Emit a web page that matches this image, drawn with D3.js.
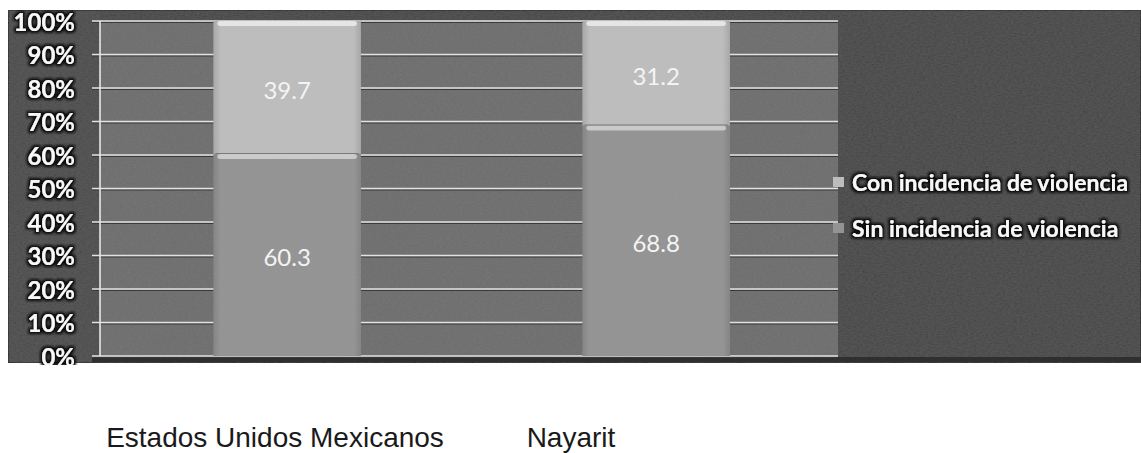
<!DOCTYPE html>
<html>
<head>
<meta charset="utf-8">
<script src="https://cdn.jsdelivr.net/npm/d3@7"></script>
<style>
  html, body { margin: 0; padding: 0; background: #ffffff; }
  svg { display: block; }
</style>
</head>
<body>
<svg id="chart" width="1141" height="453"></svg>
<script>
// ---- data ----
const categories = ["Estados Unidos Mexicanos", "Nayarit"];
const seriesNames = ["Sin incidencia de violencia", "Con incidencia de violencia"];
const sinValues = [60.3, 68.8];
const conValues = [39.7, 31.2];
const yTicks = [0, 10, 20, 30, 40, 50, 60, 70, 80, 90, 100];
const legendOrder = ["Con incidencia de violencia", "Sin incidencia de violencia"];

const svg = d3.select("#chart");

const frame = { x0: 8, y0: 10, x1: 1141, y1: 363 };
const plot = { left: 100, right: 838, top: 21, bottom: 356 };

const colors = {
  "Sin incidencia de violencia": "#939393",
  "Con incidencia de violencia": "#bdbdbd"
};

const defs = svg.append("defs");
// grain filter
const f = defs.append("filter").attr("id", "grain").attr("x", 0).attr("y", 0).attr("width", 1).attr("height", 1);
f.append("feTurbulence").attr("type", "fractalNoise").attr("baseFrequency", "0.35 0.9").attr("numOctaves", 2).attr("seed", 4).attr("result", "noise");
f.append("feColorMatrix").attr("in", "noise").attr("type", "matrix")
  .attr("values", "0 0 0 0 0.5  0 0 0 0 0.5  0 0 0 0 0.5  0 0 0 0.10 0").attr("result", "n2");
f.append("feComposite").attr("in", "n2").attr("in2", "SourceGraphic").attr("operator", "in").attr("result", "n3");
f.append("feMerge").selectAll("feMergeNode").data(["SourceGraphic", "n3"]).enter()
  .append("feMergeNode").attr("in", d => d);

// text glow filter
const tg = defs.append("filter").attr("id", "glow").attr("x", -0.2).attr("y", -0.3).attr("width", 1.4).attr("height", 1.6);
tg.append("feMorphology").attr("in", "SourceAlpha").attr("operator", "dilate").attr("radius", 1.8).attr("result", "d");
tg.append("feGaussianBlur").attr("in", "d").attr("stdDeviation", 0.9).attr("result", "b");
tg.append("feFlood").attr("flood-color", "#111111").attr("flood-opacity", 1);
tg.append("feComposite").attr("in2", "b").attr("operator", "in").attr("result", "s");
const tm = tg.append("feMerge");
tm.append("feMergeNode").attr("in", "s");
tm.append("feMergeNode").attr("in", "SourceGraphic");

// clip to frame (bottom tick label is cut by the frame edge in the original)
defs.append("clipPath").attr("id", "frameClip").append("rect")
  .attr("x", frame.x0).attr("y", frame.y0)
  .attr("width", frame.x1 - frame.x0).attr("height", frame.y1 - frame.y0 + 2);

// bar gradients (horizontal shading)
function hGrad(id, c) {
  const g = defs.append("linearGradient").attr("id", id).attr("x1", 0).attr("x2", 1).attr("y1", 0).attr("y2", 0);
  const base = d3.color(c);
  g.append("stop").attr("offset", 0).attr("stop-color", base.darker(0.35));
  g.append("stop").attr("offset", 0.05).attr("stop-color", base);
  g.append("stop").attr("offset", 0.95).attr("stop-color", base);
  g.append("stop").attr("offset", 1).attr("stop-color", base.darker(0.35));
}
hGrad("gSin", colors["Sin incidencia de violencia"]);
hGrad("gCon", colors["Con incidencia de violencia"]);
const gradId = { "Sin incidencia de violencia": "gSin", "Con incidencia de violencia": "gCon" };

// outer frame
svg.append("rect").attr("x", frame.x0).attr("y", frame.y0)
  .attr("width", frame.x1 - frame.x0).attr("height", frame.y1 - frame.y0)
  .attr("fill", "#454545").attr("stroke", "#2a2a2a").attr("stroke-width", 2)
  .attr("filter", "url(#grain)");
svg.append("rect").attr("x", frame.x0 + 1).attr("y", frame.y0 + 1)
  .attr("width", plot.left - frame.x0 - 1).attr("height", frame.y1 - frame.y0 - 2)
  .attr("fill", "#4a4a4a").attr("filter", "url(#grain)");

// plot area
svg.append("rect").attr("x", plot.left).attr("y", plot.top)
  .attr("width", plot.right - plot.left).attr("height", plot.bottom - plot.top)
  .attr("fill", "#6c6c6c").attr("filter", "url(#grain)");
// dark band under baseline
svg.append("rect").attr("x", 92).attr("y", plot.bottom + 1)
  .attr("width", frame.x1 - 92).attr("height", frame.y1 - plot.bottom - 2)
  .attr("fill", "#2f2f2f");

const x = d3.scaleBand().domain(categories).range([plot.left, plot.right])
  .paddingInner(0.6).paddingOuter(0.3).align(0.512);
const y = d3.scaleLinear().domain([0, 100]).range([plot.bottom, plot.top]);

// gridlines
const grid = svg.append("g");
grid.selectAll("line.sh").data(yTicks).enter().append("line")
  .attr("x1", 92).attr("x2", plot.right)
  .attr("y1", d => y(d) + 1.5).attr("y2", d => y(d) + 1.5)
  .attr("stroke", "#3a3a3a").attr("stroke-width", 1.2);
grid.selectAll("line.gl").data(yTicks).enter().append("line")
  .attr("x1", 92).attr("x2", plot.right)
  .attr("y1", d => y(d)).attr("y2", d => y(d))
  .attr("stroke", "#e2e2e2").attr("stroke-width", 1.6);
svg.append("line").attr("x1", plot.left).attr("x2", plot.left)
  .attr("y1", plot.top).attr("y2", plot.bottom)
  .attr("stroke", "#e8e8e8").attr("stroke-width", 1.6);

// stacked bars
const table = categories.map((c, i) => ({
  cat: c,
  "Sin incidencia de violencia": sinValues[i],
  "Con incidencia de violencia": conValues[i]
}));
const stack = d3.stack().keys(seriesNames)(table);

const barsG = svg.append("g");
stack.forEach(layer => {
  const key = layer.key;
  barsG.selectAll(null).data(layer).enter().append("rect")
    .attr("x", d => x(d.data.cat))
    .attr("width", x.bandwidth())
    .attr("y", d => y(d[1]))
    .attr("height", d => y(d[0]) - y(d[1]))
    .attr("fill", `url(#${gradId[key]})`)
    .attr("filter", "url(#grain)");
});
stack.forEach(layer => {
  barsG.selectAll(null).data(layer).enter().append("rect")
    .attr("x", d => x(d.data.cat) + 4)
    .attr("width", x.bandwidth() - 8)
    .attr("y", d => y(d[1]))
    .attr("height", 5)
    .attr("rx", 3)
    .attr("fill", layer.key === "Con incidencia de violencia" ? "#ececec" : "#d4d4d4")
    .attr("opacity", 0.85);
});
barsG.selectAll(null).data(stack[0]).enter().append("line")
  .attr("x1", d => x(d.data.cat) + 2).attr("x2", d => x(d.data.cat) + x.bandwidth() - 2)
  .attr("y1", d => y(d[1]) - 0.5).attr("y2", d => y(d[1]) - 0.5)
  .attr("stroke", "#7a7a7a").attr("stroke-width", 1.2);

// value labels
stack.forEach(layer => {
  barsG.selectAll(null).data(layer).enter().append("text")
    .attr("x", d => x(d.data.cat) + x.bandwidth() / 2)
    .attr("y", d => y((d[0] + d[1]) / 2) + 2)
    .attr("text-anchor", "middle")
    .attr("dominant-baseline", "central")
    .attr("font-family", "Lato, 'Open Sans', sans-serif")
    .attr("font-size", 24)
    .attr("fill", "#f4f4f4")
    .text(d => d.data[layer.key].toFixed(1));
});

// y tick labels
svg.append("g").attr("clip-path", "url(#frameClip)")
  .selectAll("text").data(yTicks).enter().append("text")
  .attr("x", 75).attr("y", d => y(d))
  .attr("text-anchor", "end")
  .attr("dominant-baseline", "central")
  .attr("font-family", "Lato, 'Open Sans', sans-serif")
  .attr("font-weight", "bold")
  .attr("font-size", 24)
  .attr("fill", "#f8f8f8")
  .attr("filter", "url(#glow)")
  .text(d => d + "%");

// legend
const legY = d3.scalePoint().domain(legendOrder).range([182, 228]);
const leg = svg.append("g");
leg.selectAll("rect").data(legendOrder).enter().append("rect")
  .attr("x", 833).attr("y", d => legY(d) - 5)
  .attr("width", 11).attr("height", 10)
  .attr("fill", d => colors[d]);
leg.selectAll("text").data(legendOrder).enter().append("text")
  .attr("x", 852).attr("y", d => legY(d))
  .attr("dominant-baseline", "central")
  .attr("font-family", "Lato, 'Open Sans', sans-serif")
  .attr("font-weight", "bold")
  .attr("font-size", 23)
  .attr("fill", "#f8f8f8")
  .attr("filter", "url(#glow)")
  .text(d => d);

// category labels (below the chart, on white)
const xLab = d3.scalePoint().domain(categories).range([275, 571]);
svg.append("g").selectAll("text").data(categories).enter().append("text")
  .attr("x", d => xLab(d)).attr("y", 447)
  .attr("text-anchor", "middle")
  .attr("font-family", "Arial, 'Liberation Sans', sans-serif")
  .attr("font-size", 28)
  .attr("fill", "#1a1a1a")
  .text(d => d);
</script>
</body>
</html>
